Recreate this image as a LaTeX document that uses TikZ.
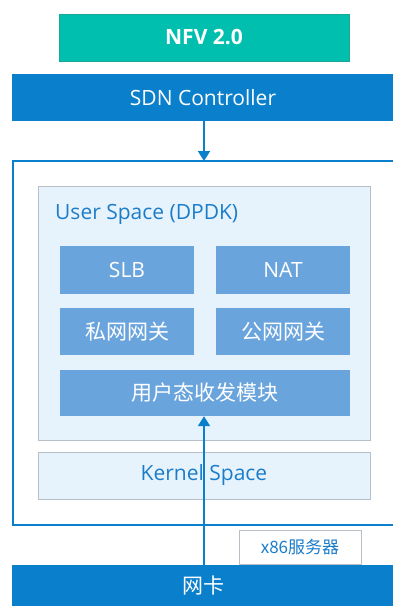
\documentclass[tikz,border=0pt]{standalone}
\usepackage{fontspec}
\setmainfont{Open Sans}
\newfontfamily\cjk{Noto Sans CJK SC}
\usetikzlibrary{arrows.meta}
\definecolor{nfvteal}{HTML}{00BFAE}
\definecolor{nfvtealdark}{HTML}{19A898}
\definecolor{ctrlblue}{HTML}{0A7FCC}
\definecolor{modblue}{HTML}{6AA4DD}
\definecolor{spacefill}{HTML}{E7F3FC}
\definecolor{spaceline}{HTML}{B9BFC6}
\definecolor{labelblue}{HTML}{1B7DC9}
\tikzset{
  px/.style={x=1pt,y=-1pt},
  big/.style={font=\fontsize{21}{24}\selectfont},
  bigcjk/.style={font=\fontsize{21}{24}\selectfont\cjk},
  bar/.style={fill=ctrlblue,draw=none,text=white,inner sep=0pt},
  module/.style={fill=modblue,draw=none,text=white,inner sep=0pt},
  spacebox/.style={fill=spacefill,draw=spaceline,line width=0.8pt,inner sep=0pt},
  flow/.style={draw=ctrlblue,line width=2pt,-{Triangle[width=12pt,length=10pt]}}
}
\begin{document}
\begin{tikzpicture}[px]
\useasboundingbox (0,0) rectangle (392,606);
% top layer
\node[fill=nfvteal,draw=nfvtealdark,line width=0.6pt,minimum width=290pt,minimum height=47pt,inner sep=0pt,text=white,font=\fontsize{21}{24}\selectfont\bfseries] (nfv) at (204,37.5) {NFV 2.0};
\node[bar,big,minimum width=382pt,minimum height=47pt] (sdn) at (203,97.5) {SDN Controller};
% server frame
\draw[draw=ctrlblue,line width=2pt] (394,161) -- (13,161) -- (13,525) -- (394,525);
\coordinate (frametop) at (204,161);
% user space
\node[spacebox,minimum width=332pt,minimum height=254pt] (user) at (204,313) {};
\node[anchor=west,text=labelblue,big,inner sep=0pt] (userlbl) at (55,214) {User Space (DPDK)};
\node[module,big,minimum width=134pt,minimum height=48pt] (slb) at (127,270) {SLB};
\node[module,big,minimum width=134pt,minimum height=48pt] (nat) at (283,270) {NAT};
\node[module,bigcjk,minimum width=134pt,minimum height=47pt] (priv) at (127,331.5) {私网网关};
\node[module,bigcjk,minimum width=134pt,minimum height=47pt] (pub) at (283,331.5) {公网网关};
\node[module,bigcjk,minimum width=290pt,minimum height=46pt] (rxtx) at (205,393) {用户态收发模块};
% kernel space
\node[spacebox,big,minimum width=332pt,minimum height=47pt,text=labelblue] (kernel) at (204,475.5) {Kernel Space};
% server label
\node[fill=white,draw=spaceline,line width=0.8pt,minimum width=122pt,minimum height=34pt,inner sep=0pt,text=labelblue,font=\fontsize{17}{20}\selectfont\cjk] (x86) at (300,547.5) {x86服务器};
% NIC
\node[bar,bigcjk,minimum width=382pt,minimum height=42pt] (nic) at (203,586) {网卡};
% connectors
\draw[flow] (sdn.south -| frametop) -- (frametop);
\draw[flow] (nic.north -| 204,0) -- (rxtx.south -| 204,0);
\end{tikzpicture}
\end{document}
